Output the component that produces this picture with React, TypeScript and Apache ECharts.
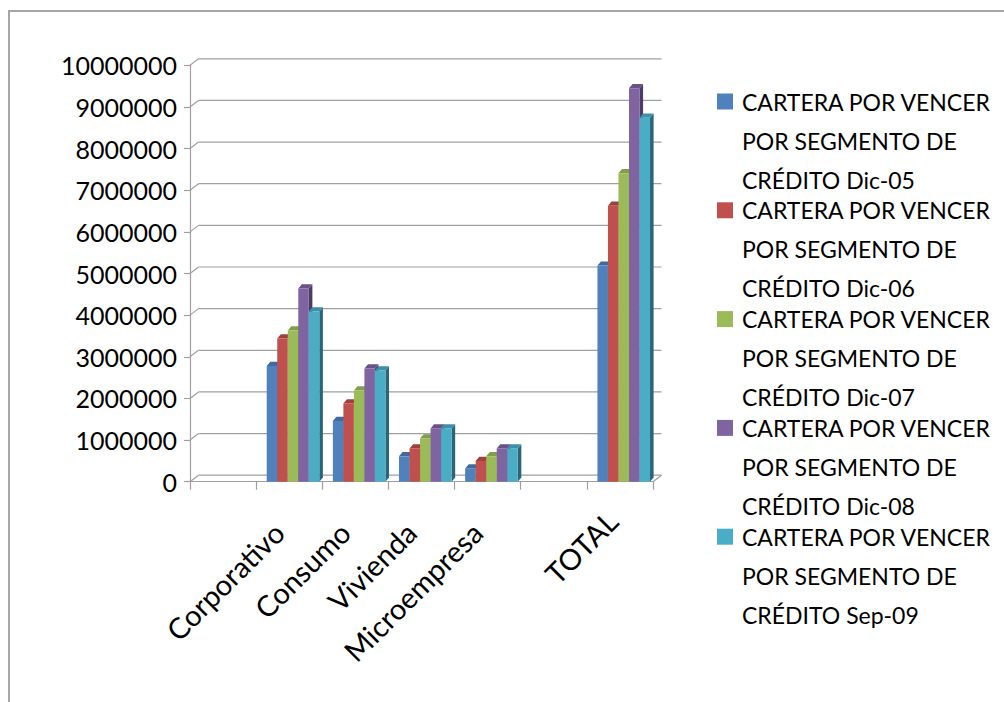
import React, { useEffect, useRef } from "react";
import * as echarts from "echarts";

// Segment categories (blank slots keep the gaps on the axis)
const categories = ["", "Corporativo", "Consumo", "Vivienda", "Microempresa", " ", "TOTAL"];

// Y axis ticks
const yMin = 0;
const yMax = 10000000;
const yInterval = 1000000;
const yTicks = [0, 1000000, 2000000, 3000000, 4000000, 5000000, 6000000, 7000000, 8000000, 9000000, 10000000];

// Series names
const seriesNames = [
  "CARTERA POR VENCER POR SEGMENTO DE CRÉDITO Dic-05",
  "CARTERA POR VENCER POR SEGMENTO DE CRÉDITO Dic-06",
  "CARTERA POR VENCER POR SEGMENTO DE CRÉDITO Dic-07",
  "CARTERA POR VENCER POR SEGMENTO DE CRÉDITO Dic-08",
  "CARTERA POR VENCER POR SEGMENTO DE CRÉDITO Sep-09",
];

// Portfolio values per segment
const dic05 = [null, 2780000, 1460000, 610000, 320000, null, 5190000];
const dic06 = [null, 3440000, 1880000, 800000, 500000, null, 6630000];
const dic07 = [null, 3630000, 2190000, 1040000, 610000, null, 7410000];
const dic08 = [null, 4640000, 2720000, 1280000, 800000, null, 9450000];
const sep09 = [null, 4090000, 2670000, 1280000, 800000, null, 8740000];

const seriesValues = [dic05, dic06, dic07, dic08, sep09];

const colors = ["#4F81BD", "#C0504D", "#9BBB59", "#8064A2", "#4BACC6"];
const sideColors = ["#2E4C73", "#76302E", "#5E7236", "#4C3B62", "#2A6677"];
const topColors = ["#3F6A9E", "#A0403D", "#80A045", "#6A5088", "#3A92AA"];

const FONT = "Lato, 'Noto Sans', sans-serif";
const GRID_COLOR = "#A0A0A0";
const DEPTH_X = 8.5;
const DEPTH_Y = -6.5;

function makeBarRenderer(s: number) {
  return (params: any, api: any) => {
    const cat = api.value(0);
    const v = api.value(1);
    if (v == null || isNaN(v)) return null;
    const base = api.coord([cat, 0]);
    const top = api.coord([cat, v]);
    const band = api.size([1, 0])[0];
    const w = band * 0.159;
    const x = base[0] - band * 0.34 + s * w;
    const dx = w * 0.34;
    const dy = -4.2;
    const yT = top[1];
    const yB = base[1];
    return {
      type: "group",
      children: [
        {
          type: "polygon",
          shape: {
            points: [
              [x + w, yT],
              [x + w + dx, yT + dy],
              [x + w + dx, yB + dy],
              [x + w, yB],
            ],
          },
          style: { fill: sideColors[s] },
        },
        {
          type: "polygon",
          shape: {
            points: [
              [x, yT],
              [x + dx, yT + dy],
              [x + w + dx, yT + dy],
              [x + w, yT],
            ],
          },
          style: { fill: topColors[s] },
        },
        {
          type: "rect",
          shape: { x, y: yT, width: w, height: yB - yT },
          style: { fill: colors[s] },
        },
      ],
    };
  };
}

// Back wall gridlines with the short depth connectors to the front axis
function renderFrame(params: any, api: any) {
  const v = api.value(1);
  const cs = params.coordSys;
  const L = cs.x;
  const R = cs.x + cs.width;
  const y = api.coord([0, v])[1];
  const style = { stroke: GRID_COLOR, lineWidth: 1.2, fill: "none" };
  const children: any[] = [
    { type: "line", shape: { x1: L, y1: y, x2: L + DEPTH_X, y2: y + DEPTH_Y }, style },
    { type: "line", shape: { x1: L + DEPTH_X, y1: y + DEPTH_Y, x2: R + DEPTH_X, y2: y + DEPTH_Y }, style },
  ];
  if (v === 0) {
    children.push({ type: "line", shape: { x1: R, y1: y, x2: R + DEPTH_X, y2: y + DEPTH_Y }, style });
  }
  return { type: "group", children };
}

// Three-line legend entry; two blank lines above keep the marker beside the first line
function legendLabel(name: string) {
  return "\n\n" + name.replace("VENCER ", "VENCER\n").replace("DE ", "DE\n");
}

// Category labels; a thin spacer line underneath lifts each slanted label off the axis
function categoryLabel(name: string) {
  if (!name.trim()) return "";
  return name === "TOTAL" ? `{t|${name}}\n{gt| }` : `{n|${name}}\n{gn| }`;
}

export default function App() {
  const ref = useRef<HTMLDivElement>(null);

  useEffect(() => {
    if (!ref.current) return;
    const chart = echarts.init(ref.current, null, { renderer: "svg" });

    const barSeries = seriesNames.map((name, s) => ({
      name,
      type: "custom",
      renderItem: makeBarRenderer(s),
      itemStyle: { color: colors[s] },
      encode: { x: 0, y: 1 },
      data: seriesValues[s].map((v, i) => [i, v]),
      z: 5,
    }));

    const labelText = { fontSize: 29, fontFamily: FONT, color: "#000000" };

    const option: any = {
      animation: false,
      color: colors,
      backgroundColor: "#FFFFFF",
      textStyle: { fontFamily: FONT },
      grid: { left: 190, top: 65.3, width: 463, height: 416.4 },
      xAxis: {
        type: "category",
        data: categories,
        boundaryGap: true,
        axisLine: { show: true, lineStyle: { color: GRID_COLOR, width: 1.2 } },
        axisTick: { show: true, length: 8, interval: 0, lineStyle: { color: GRID_COLOR, width: 1.2 } },
        axisLabel: {
          interval: 0,
          rotate: 45,
          margin: 42,
          fontSize: 29,
          fontFamily: FONT,
          color: "#000000",
          formatter: categoryLabel,
          rich: {
            n: { ...labelText, padding: [0, 10, 0, 0] },
            t: { ...labelText, padding: [0, 0, 0, 0] },
            gn: { fontSize: 4, lineHeight: 10 },
            gt: { fontSize: 4, lineHeight: 22 },
          },
        },
        splitLine: { show: false },
      },
      yAxis: {
        type: "value",
        min: yMin,
        max: yMax,
        interval: yInterval,
        axisLine: { show: true, lineStyle: { color: GRID_COLOR, width: 1.2 } },
        axisTick: { show: true, length: 6, lineStyle: { color: GRID_COLOR, width: 1.2 } },
        axisLabel: {
          margin: 13,
          fontSize: 25,
          fontFamily: FONT,
          color: "#000000",
          formatter: (v: number) => String(v),
        },
        splitLine: { show: false },
      },
      legend: {
        orient: "vertical",
        left: 717,
        top: 4,
        padding: 0,
        itemGap: -86.2,
        itemWidth: 16,
        itemHeight: 16,
        icon: "rect",
        data: seriesNames,
        formatter: legendLabel,
        selectedMode: false,
        textStyle: {
          fontSize: 23,
          fontFamily: FONT,
          color: "#000000",
          lineHeight: 39,
          padding: [0, 0, 0, 4],
        },
      },
      graphic: [
        {
          type: "polyline",
          shape: { points: [[9, 702], [9, 11], [1004, 11]] },
          style: { stroke: "#A6A6A6", lineWidth: 2, fill: "none" },
          silent: true,
        },
      ],
      series: [
        {
          name: "frame",
          type: "custom",
          renderItem: renderFrame,
          encode: { x: 0, y: 1 },
          data: yTicks.map((t) => [0, t]),
          silent: true,
          z: 1,
        },
        ...barSeries,
      ],
    };

    chart.setOption(option);
    return () => chart.dispose();
  }, []);

  return (
    <div
      ref={ref}
      style={{ position: "fixed", left: 0, top: 0, width: 1004, height: 702, background: "#fff" }}
    />
  );
}
